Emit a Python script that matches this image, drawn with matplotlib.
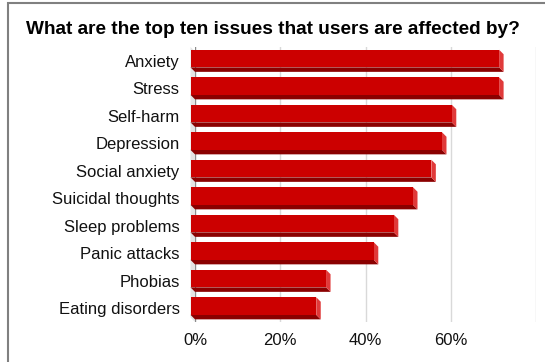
import matplotlib
matplotlib.use('Agg')
import matplotlib.pyplot as plt
from matplotlib.patches import Polygon, Rectangle

plt.rcParams['font.family'] = ['Liberation Sans', 'DejaVu Sans']

# issues, top to bottom
issues = ['Anxiety', 'Stress', 'Self-harm', 'Depression', 'Social anxiety',
          'Suicidal thoughts', 'Sleep problems', 'Panic attacks', 'Phobias',
          'Eating disorders']
# share of users (%)
share = [72.4, 72.4, 61.3, 59.0, 56.5, 52.2, 47.7, 43.0, 31.8, 29.5]
tick_vals = [0, 20, 40, 60, 80]
tick_labels = ['0%', '20%', '40%', '60%', '']

W, H = 545, 362
fig = plt.figure(figsize=(W / 100, H / 100), dpi=100)
ax = fig.add_axes([195 / W, 1 - 322 / H, 341 / W, 275 / H])

ax.set_xlim(0, 80)
ax.set_ylim(len(issues) - 0.5, -0.5)

# 3d depth in data units (~4.5 px)
dx = 4.5 / (341 / 80)
dy = 4.5 / (275 / len(issues))
hf = 0.64             # front face height
top_off = 0.40

# grey "wall" at the left
ax.add_patch(Polygon([(-dx, -0.5), (0, -0.5 + dy), (0, len(issues) - 0.5),
                      (-dx, len(issues) - 0.5 - dy)], closed=True,
                     facecolor='#e4e4e4', edgecolor='none', clip_on=False, zorder=1))

for v in tick_vals[1:]:
    ax.axvline(v, color='#d9d9d9', lw=1, zorder=0)
ax.axvline(0, color='#8c8c8c', lw=1, zorder=1)

for i, v in enumerate(share):
    y0 = i - top_off
    y1 = y0 + hf
    # front face
    ax.barh(i - top_off + hf / 2, v, height=hf, left=-dx, color='#cc0000',
            zorder=3, clip_on=False)
    # bottom face
    ax.add_patch(Polygon([(-dx, y1), (0, y1 + dy), (v, y1 + dy), (v - dx, y1)],
                         closed=True, facecolor='#8a0000', edgecolor='none',
                         zorder=2, clip_on=False))
    # right side face
    ax.add_patch(Polygon([(v - dx, y0), (v, y0 + dy), (v, y1 + dy), (v - dx, y1)],
                         closed=True, facecolor='#e03a3a', edgecolor='none',
                         zorder=2, clip_on=False))

ax.set_yticks(range(len(issues)))
ax.set_yticklabels(issues, fontsize=12, color='#111111')
ax.set_xticks(tick_vals)
ax.set_xticklabels(tick_labels, fontsize=12, color='#111111')
ax.tick_params(axis='y', length=0, pad=11)
ax.tick_params(axis='x', length=0, pad=8)
for s in ax.spines.values():
    s.set_visible(False)

fig.text(0.5, 1 - 34 / H, 'What are the top ten issues that users are affected by?',
         ha='center', va='baseline', fontsize=13.7, fontweight='bold')

# outer frame
fig.patches.append(Rectangle((8 / W, -0.1), 1.2, 1 - 3 / H + 0.1,
                             transform=fig.transFigure, fill=False,
                             edgecolor='#808080', lw=1.5))

fig.savefig('out.png', dpi=100)
